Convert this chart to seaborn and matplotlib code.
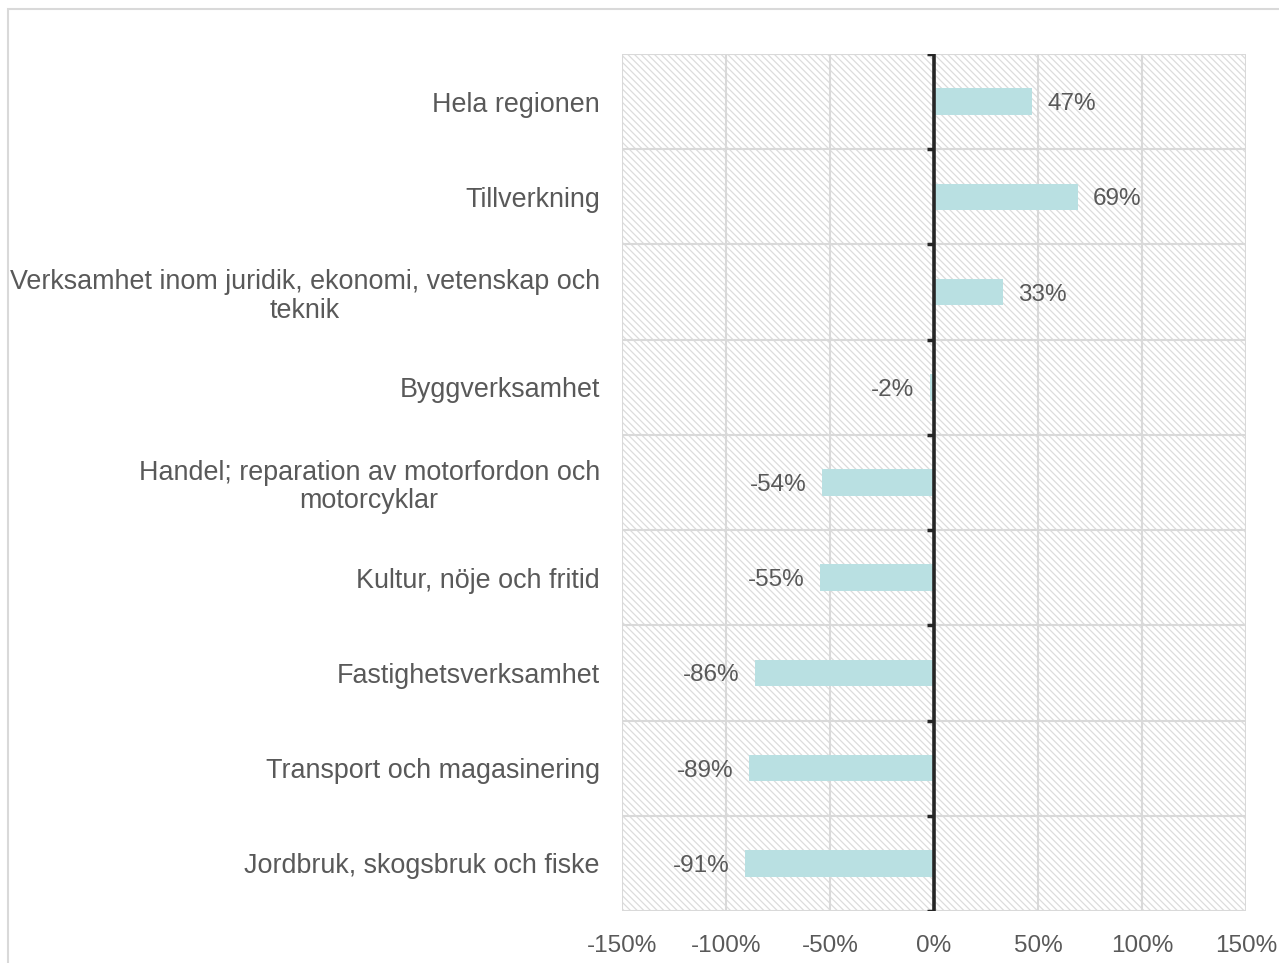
import matplotlib; matplotlib.use('Agg')
import matplotlib.pyplot as plt
from matplotlib.patches import Rectangle
from matplotlib.ticker import FuncFormatter
import numpy as np
import pandas as pd
import seaborn as sns

categories = [
    "Hela regionen",
    "Tillverkning",
    "Verksamhet inom juridik, ekonomi, vetenskap och\nteknik",
    "Byggverksamhet",
    "Handel; reparation av motorfordon och\nmotorcyklar",
    "Kultur, nöje och fritid",
    "Fastighetsverksamhet",
    "Transport och magasinering",
    "Jordbruk, skogsbruk och fiske",
]
change = [47, 69, 33, -2, -54, -55, -86, -89, -91]
x_ticks = [-150, -100, -50, 0, 50, 100, 150]

TEXT = '#595959'
GRID = '#d9d9d9'
BAR = '#b9e0e2'

sns.set_theme(style='white')
plt.rcParams['font.family'] = ['Liberation Sans', 'DejaVu Sans']
plt.rcParams['hatch.linewidth'] = 0.9

df = pd.DataFrame({'cat': categories, 'val': change})

fig = plt.figure(figsize=(12.79, 9.63), dpi=100)
ax = fig.add_axes([622/1279, 1 - 911/963, 624/1279, 857/963])

# hatched plot area
ax.add_patch(Rectangle((0, 0), 1, 1, transform=ax.transAxes, facecolor='white',
                       edgecolor='#dcdcdc', hatch='\\' * 5, lw=0, zorder=0))

sns.barplot(data=df, x='val', y='cat', color=BAR, width=0.28, saturation=1,
            orient='h', ax=ax, zorder=3, linewidth=0)

n = len(categories)
ax.set_xlim(x_ticks[0], x_ticks[-1])
ax.set_ylim(n - 0.5, -0.5)
ax.set_xticks(x_ticks)
ax.xaxis.set_major_formatter(FuncFormatter(lambda v, p: f"{v:.0f}%"))
bounds = np.arange(n + 1) - 0.5

# grid
for xv in x_ticks:
    ax.axvline(xv, color=GRID, lw=1.5, zorder=1)
for yb in bounds:
    ax.axhline(yb, color=GRID, lw=1.5, zorder=1)
for s in ax.spines.values():
    s.set_visible(False)

# zero axis line with small ticks
ax.axvline(0, color='#262626', lw=2.6, zorder=4)
ax.hlines(bounds, -3.3, 0, color='#262626', lw=2.5, zorder=4)

ax.tick_params(axis='both', which='both', length=0)
ax.tick_params(axis='y', pad=16, labelsize=19.4, labelcolor=TEXT)
ax.tick_params(axis='x', pad=17, labelsize=17.5, labelcolor=TEXT)
for t in ax.get_yticklabels():
    t.set_multialignment('center')
    t.set_linespacing(1.15)
ax.set_xlabel('')
ax.set_ylabel('')

lbls = ax.bar_label(ax.containers[0], labels=[f"{v}%" for v in change], padding=11,
                    fontsize=17.5, color=TEXT)
for t in lbls:
    t.set_verticalalignment('center_baseline')

# outer chart border
fig.patches.append(Rectangle((8/1279, -0.05), 1.2, 1 - 9/963 + 0.05,
                             transform=fig.transFigure, facecolor='none',
                             edgecolor=GRID, lw=1.5))

plt.savefig('out.png', dpi=100)
